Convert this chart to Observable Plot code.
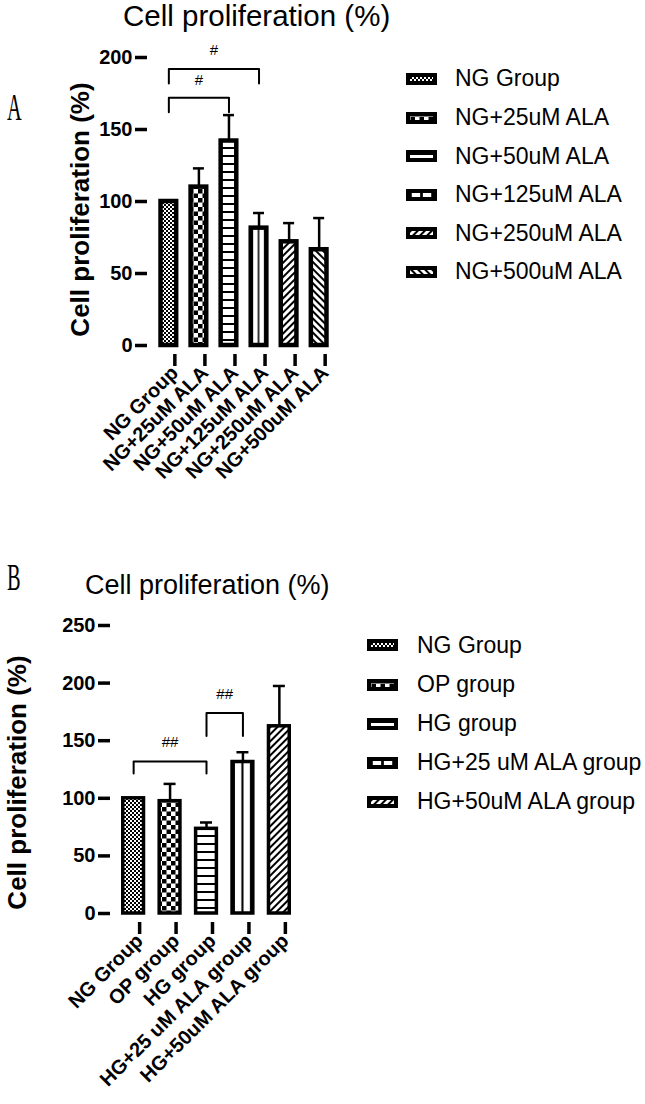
<!DOCTYPE html>
<html><head><meta charset="utf-8">
<script src="https://cdn.jsdelivr.net/npm/d3@7"></script>
<script src="https://cdn.jsdelivr.net/npm/@observablehq/plot@0.6"></script>
<style>
body{margin:0;background:#fff;font-family:"Liberation Sans",Arial,sans-serif;}
#root{position:relative;width:645px;height:1104px;overflow:hidden;background:#fff;}
.abs{position:absolute;line-height:1;white-space:nowrap;color:#000;}
.letter{font-family:"Liberation Serif",serif;font-size:37px;transform:scaleX(0.55);transform-origin:left top;}
.legend{position:absolute;}
.legend .row{display:flex;align-items:center;}
.legend .row span{font-size:23px;line-height:1;color:#000;}
.legend svg{display:block;}
</style></head><body>
<svg width="0" height="0" style="position:absolute">
<defs>
<pattern id="p-fine" patternUnits="userSpaceOnUse" width="4" height="4"><rect width="4" height="4" fill="#fff"/><rect width="2" height="2" fill="#000"/><rect x="2" y="2" width="2" height="2" fill="#000"/></pattern>
<pattern id="p-check" patternUnits="userSpaceOnUse" width="9" height="9"><rect width="9" height="9" fill="#fff"/><rect width="4.5" height="4.5" fill="#000"/><rect x="4.5" y="4.5" width="4.5" height="4.5" fill="#000"/></pattern>
<pattern id="p-hline" patternUnits="userSpaceOnUse" width="8" height="8"><rect width="8" height="8" fill="#fff"/><rect y="3" width="8" height="2" fill="#000"/></pattern>
<pattern id="p-vline" patternUnits="objectBoundingBox" patternContentUnits="objectBoundingBox" width="1" height="1"><rect width="1" height="1" fill="#fff"/><rect x="0" width="0.14" height="1" fill="#000"/><rect x="0.45" width="0.1" height="1" fill="#000"/><rect x="0.86" width="0.14" height="1" fill="#000"/></pattern>
<pattern id="p-diag" patternUnits="userSpaceOnUse" width="5" height="5" patternTransform="rotate(45)"><rect width="5" height="5" fill="#fff"/><rect width="2" height="5" fill="#000"/></pattern>
<pattern id="p-anti" patternUnits="userSpaceOnUse" width="5" height="5" patternTransform="rotate(-45)"><rect width="5" height="5" fill="#fff"/><rect width="2" height="5" fill="#000"/></pattern>
</defs></svg>
<div id="root"></div>
<script>
// ---------- Panel A data ----------
const titleA = "Cell proliferation (%)";
const yLabelA = "Cell proliferation (%)";
const catsA = ["NG Group", "NG+25uM ALA", "NG+50uM ALA", "NG+125uM ALA", "NG+250uM ALA", "NG+500uM ALA"];
const meanA = [100, 110, 142, 81.5, 72, 66.5];
const errA = [0, 13, 18, 10.5, 13, 22];
const patA = ["p-fine", "p-check", "p-hline", "p-vline", "p-diag", "p-anti"];
const ticksA = [0, 50, 100, 150, 200];
const domainA = [0, 200];
const bracketFromA = ["NG Group", "NG Group"];
const bracketToA = ["NG+50uM ALA", "NG+125uM ALA"];
const bracketLowA = [162, 182];
const bracketHighA = [172, 192];
const bracketLabelA = ["#", "#"];
const bracketLabelYA = [184, 205];

// ---------- Panel B data ----------
const titleB = "Cell proliferation (%)";
const yLabelB = "Cell proliferation (%)";
const catsB = ["NG Group", "OP group", "HG group", "HG+25 uM ALA group", "HG+50uM ALA group"];
const meanB = [100, 97.5, 73.5, 131.5, 162.5];
const errB = [0, 15, 5.5, 8.5, 35];
const patB = ["p-fine", "p-check", "p-hline", "p-vline", "p-diag"];
const ticksB = [0, 50, 100, 150, 200, 250];
const domainB = [0, 250];
const bracketFromB = ["NG Group", "HG group"];
const bracketToB = ["HG group", "HG+25 uM ALA group"];
const bracketLowB = [121.5, 154];
const bracketHighB = [132, 174];
const bracketLabelB = ["##", "##"];
const bracketLabelYB = [148.5, 190];

function makePanel(c) {
  const xOpts = {type: "band", domain: c.cats, paddingInner: c.pi, paddingOuter: c.po, round: false};
  const xs = Plot.scale({x: {...xOpts, range: [c.ml, c.width - c.mr]}});
  const bw = xs.bandwidth;
  const rows = c.cats.map((cat, i) => ({cat, mean: c.mean[i], err: c.err[i], pat: `url(#${c.pat[i]})`}));
  const withErr = rows.filter(d => d.err > 0);
  const bpts = [];
  c.bFrom.forEach((f, i) => {
    const t = c.bTo[i];
    bpts.push({k: i, x: f, y: c.bLow[i]}, {k: i, x: f, y: c.bHigh[i]}, {k: i, x: t, y: c.bHigh[i]}, {k: i, x: t, y: c.bLow[i]});
  });
  const labelMarks = c.bFrom.map((f, i) => Plot.text([{x: f, y: c.bLabelY[i], t: c.bLabel[i]}], {
    x: "x", y: "y", text: "t", fontSize: 15, fontWeight: "normal",
    dx: (xs.apply(c.bTo[i]) - xs.apply(f)) / 2
  }));
  const inset = (bw - c.capW) / 2;
  return Plot.plot({
    width: c.width, height: c.height,
    marginLeft: c.ml, marginRight: c.mr, marginTop: c.mt, marginBottom: c.mb,
    x: xOpts,
    y: {domain: c.domain, ticks: c.ticks},
    style: {fontFamily: "'Liberation Sans', Arial, sans-serif", color: "#000", background: "transparent", overflow: "visible"},
    marks: [
      Plot.barY(rows, {x: "cat", y: "mean", fill: "pat", stroke: "#000", strokeWidth: c.sw}),
      Plot.ruleX(withErr, {x: "cat", y1: "mean", y2: d => d.mean + d.err, stroke: "#000", strokeWidth: 2.5}),
      Plot.tickY(withErr, {x: "cat", y: d => d.mean + d.err, stroke: "#000", strokeWidth: 2.5, insetLeft: inset, insetRight: inset}),
      Plot.line(bpts, {x: "x", y: "y", z: "k", stroke: "#000", strokeWidth: 2}),
      ...labelMarks,
      Plot.axisY({ticks: c.ticks, tickSize: 12, tickPadding: 3, strokeWidth: 3.5, fontSize: 20, fontWeight: "bold", line: true, label: null}),
      Plot.axisX({tickSize: 12, tickPadding: 3, tickRotate: -45, strokeWidth: 3.5, fontSize: 20, fontWeight: "bold", line: true, label: null, dx: 6, dy: 9}),
      Plot.text([c.yLabel], {frameAnchor: "left", textAnchor: "middle", rotate: -90, dx: c.labelX - c.ml, dy: c.labelDy, fontSize: 26, fontWeight: "bold"})
    ]
  });
}

function makeLegend(cats, pats, left, firstCenter, spacing, gap) {
  const div = document.createElement("div");
  div.className = "legend";
  div.style.left = left + "px";
  div.style.top = (firstCenter - spacing / 2) + "px";
  cats.forEach((cat, i) => {
    const row = document.createElement("div");
    row.className = "row";
    row.style.height = spacing + "px";
    row.innerHTML = `<svg width="31" height="12"><rect x="2" y="2" width="27" height="8" fill="url(#${pats[i]})" stroke="#000" stroke-width="4"/></svg><span style="margin-left:${gap}px"></span>`;
    row.querySelector("span").textContent = cat;
    div.appendChild(row);
  });
  return div;
}

function addText(txt, cls, left, top, size) {
  const d = document.createElement("div");
  d.className = "abs " + cls;
  d.style.left = left + "px";
  d.style.top = top + "px";
  if (size) d.style.fontSize = size + "px";
  d.textContent = txt;
  root.appendChild(d);
}

const root = document.getElementById("root");

// Panel A
const wrapA = document.createElement("div");
wrapA.style.cssText = "position:absolute;left:0;top:0;";
wrapA.appendChild(makePanel({
  cats: catsA, mean: meanA, err: errA, pat: patA, ticks: ticksA, domain: domainA,
  bFrom: bracketFromA, bTo: bracketToA, bLow: bracketLowA, bHigh: bracketHighA, bLabel: bracketLabelA, bLabelY: bracketLabelYA,
  yLabel: yLabelA, width: 340, height: 480, ml: 147, mr: 0, mt: 57, mb: 135, pi: 0.48, po: 0.45, sw: 4.5, capW: 11, labelX: 80, labelDy: 8
}));
root.appendChild(wrapA);
addText(titleA, "", 123, 1, 29.5);
addText("A", "letter", 7, 89);
root.appendChild(makeLegend(catsA, patA, 406, 79, 38.6, 18));

// Panel B
const wrapB = document.createElement("div");
wrapB.style.cssText = "position:absolute;left:0;top:600px;";
wrapB.appendChild(makePanel({
  cats: catsB, mean: meanB, err: errB, pat: patB, ticks: ticksB, domain: domainB,
  bFrom: bracketFromB, bTo: bracketToB, bLow: bracketLowB, bHigh: bracketHighB, bLabel: bracketLabelB, bLabelY: bracketLabelYB,
  yLabel: yLabelB, width: 302, height: 500, ml: 110, mr: 0, mt: 25, mb: 187, pi: 0.43, po: 0.35, sw: 3.5, capW: 12, labelX: 17, labelDy: 13
}));
root.appendChild(wrapB);
addText(titleB, "", 85, 572, 27);
addText("B", "letter", 7, 559);
root.appendChild(makeLegend(catsB, patB, 367, 645.5, 39.1, 19));
</script>
</body></html>
